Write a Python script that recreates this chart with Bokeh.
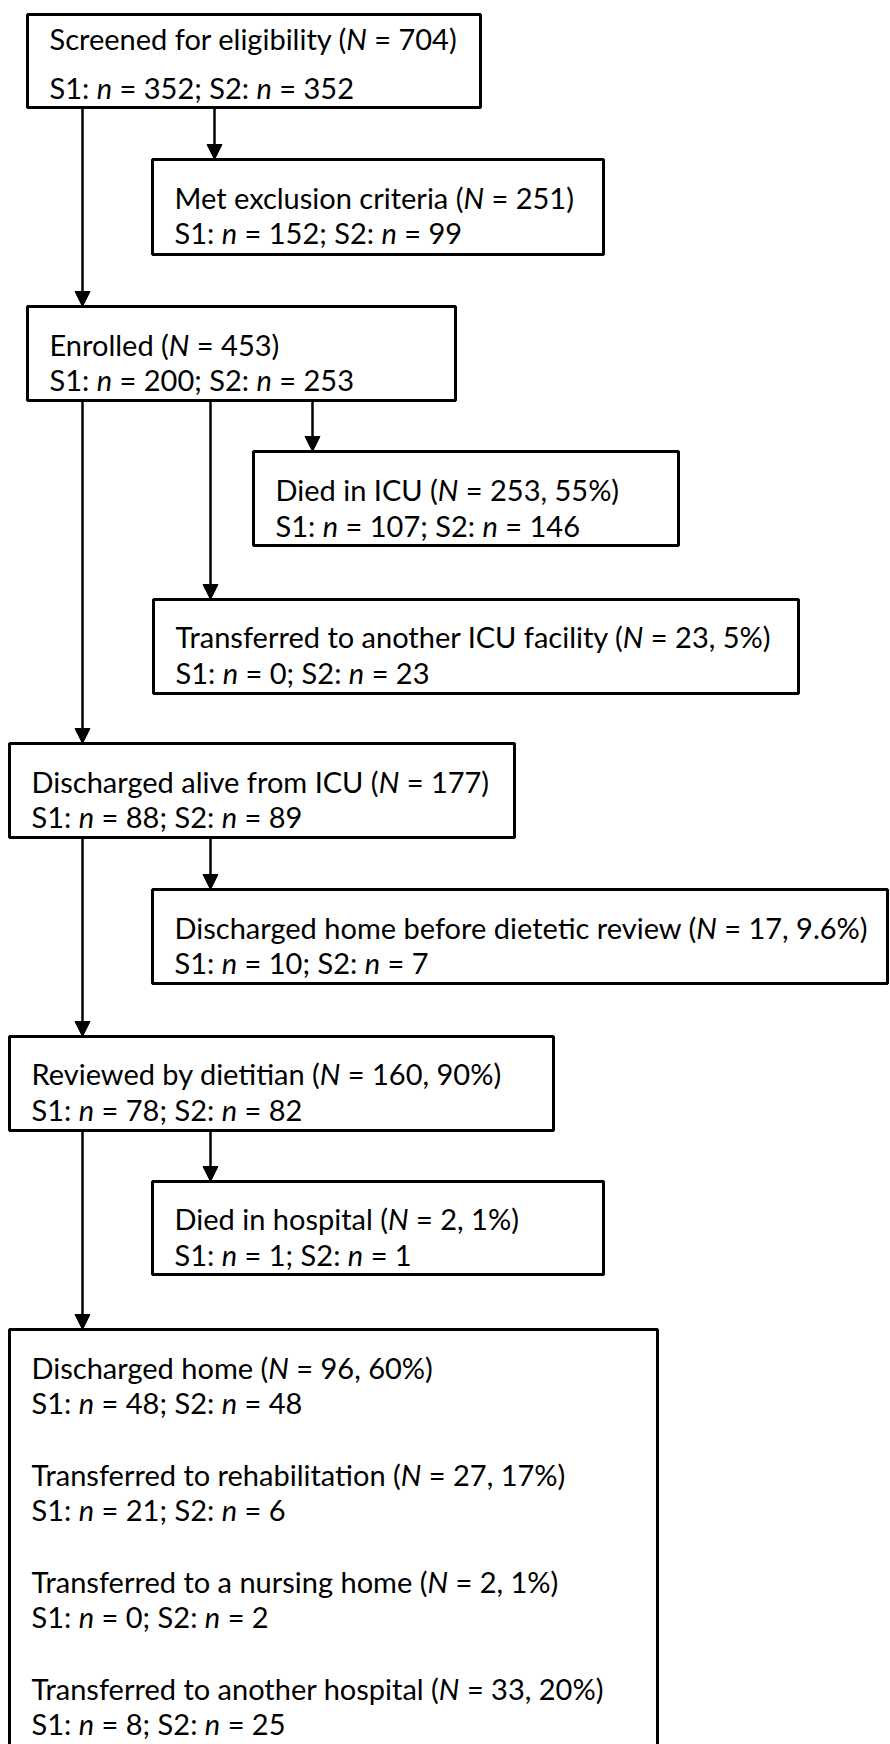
import glob
import os
import subprocess

from bokeh.plotting import figure
from bokeh.models import Range1d, Arrow, NormalHead, ColumnDataSource
from bokeh.core.properties import value
from bokeh.embed import file_html
from bokeh.resources import INLINE

# ---------------- data ----------------
stages = [
    "Screened for eligibility",
    "Met exclusion criteria",
    "Enrolled",
    "Died in ICU",
    "Transferred to another ICU facility",
    "Discharged alive from ICU",
    "Discharged home before dietetic review",
    "Reviewed by dietitian",
    "Died in hospital",
    "Discharged home",
    "Transferred to rehabilitation",
    "Transferred to a nursing home",
    "Transferred to another hospital",
]
totals = [704, 251, 453, 253, 23, 177, 17, 160, 2, 96, 27, 2, 33]
percents = [None, None, None, "55%", "5%", None, "9.6%", "90%", "1%", "60%", "17%", "1%", "20%"]
s1_counts = [352, 152, 200, 107, 0, 88, 10, 78, 1, 48, 21, 0, 8]
s2_counts = [352, 99, 253, 146, 23, 89, 7, 82, 1, 48, 6, 2, 25]

# ---------------- layout (reference pixel coordinates) ----------------
W, H = 890, 1744
box_of_stage = [0, 1, 2, 3, 4, 5, 6, 7, 8, 9, 9, 9, 9]
box_left = [27, 152, 27, 253, 153, 9, 152, 9, 152, 9]
box_top = [14, 159, 306, 451, 599, 743, 889, 1036, 1181, 1329]
box_right = [480, 603, 455, 678, 798, 514, 887, 553, 603, 657]
box_bottom = [107, 254, 400, 545, 693, 837, 983, 1130, 1274, 1780]
first_line = [24, 38, 38, 38, 37, 38, 38, 37, 37, 38]
line_gap = [49, 35, 35, 36, 36, 35, 35, 36, 36, 35]
connectors = [(0, 2, 82), (0, 1, 214), (2, 5, 82), (2, 4, 210), (2, 3, 312),
              (5, 7, 82), (5, 6, 210), (7, 9, 82), (7, 8, 210)]
TEXT_PAD = 22
BLOCK_GAP = 107
FONT = "Lato"
FONT_PX = 29


def find_font(names, query):
    for n in names:
        for root in ("/usr/share/fonts", "/usr/local/share/fonts", os.path.expanduser("~/.fonts")):
            g = glob.glob(os.path.join(root, "**", n), recursive=True)
            if g:
                return g[0]
    try:
        out = subprocess.run(["fc-match", "-f", "%{file}", query],
                             capture_output=True, text=True, timeout=5).stdout.strip()
        if out and os.path.exists(out):
            return out
    except Exception:
        pass
    return None


measurers = {}
try:
    from PIL import ImageFont
    reg = find_font(["Lato-Regular.ttf"], "Lato:style=Regular")
    ita = find_font(["Lato-Italic.ttf"], "Lato:style=Italic") or reg
    if reg:
        measurers["normal"] = ImageFont.truetype(reg, FONT_PX * 4)
        measurers["italic"] = ImageFont.truetype(ita, FONT_PX * 4)
except Exception:
    measurers = {}


def text_width(s, style):
    f = measurers.get(style)
    if f is not None:
        return f.getlength(s) / 4.0
    return 0.52 * FONT_PX * len(s)


def segments_for(i):
    pct = f", {percents[i]}" if percents[i] else ""
    line1 = [(f"{stages[i]} (", "normal"), ("N", "italic"), (f" = {totals[i]}{pct})", "normal")]
    line2 = [("S1: ", "normal"), ("n", "italic"), (f" = {s1_counts[i]}; S2: ", "normal"),
             ("n", "italic"), (f" = {s2_counts[i]}", "normal")]
    return line1, line2


cols = {"normal": dict(x=[], y=[], text=[]), "italic": dict(x=[], y=[], text=[])}
block_index = {}
for i in range(len(stages)):
    b = box_of_stage[i]
    k = block_index.get(b, 0)
    block_index[b] = k + 1
    base = box_top[b] + first_line[b] + k * BLOCK_GAP
    for li, line in enumerate(segments_for(i)):
        x = box_left[b] + TEXT_PAD
        y = base + li * line_gap[b]
        for s, style in line:
            lead = len(s) - len(s.lstrip(" "))
            cols[style]["x"].append(x + text_width(" " * lead, style))
            cols[style]["y"].append(y)
            cols[style]["text"].append(s.strip(" "))
            x += text_width(s, style)

# ---------------- figure ----------------
p = figure(width=W, height=H, x_range=Range1d(0, W), y_range=Range1d(H, 0),
           output_backend="svg", toolbar_location=None, min_border=0,
           x_axis_type=None, y_axis_type=None)
p.grid.visible = False
p.outline_line_color = None
p.background_fill_color = "white"
p.border_fill_color = "white"

p.quad(left=box_left, right=box_right, top=box_top, bottom=box_bottom,
       fill_color="white", line_color="black", line_width=3)

arrow_src = ColumnDataSource(dict(
    xs=[c[2] for c in connectors],
    ys=[box_bottom[c[0]] for c in connectors],
    xe=[c[2] for c in connectors],
    ye=[box_top[c[1]] for c in connectors],
))
p.add_layout(Arrow(end=NormalHead(size=15, fill_color="black", line_color="black", line_width=1),
                   x_start="xs", y_start="ys", x_end="xe", y_end="ye", source=arrow_src,
                   line_color="black", line_width=2.5))

for style in ("normal", "italic"):
    p.text(x="x", y="y", text="text", source=ColumnDataSource(cols[style]),
           text_font=value(FONT), text_font_size=value(f"{FONT_PX}px"),
           text_font_style=style, text_baseline="alphabetic", text_align="left",
           text_color="#000000")

open("out.html", "w").write(file_html(p, INLINE))
